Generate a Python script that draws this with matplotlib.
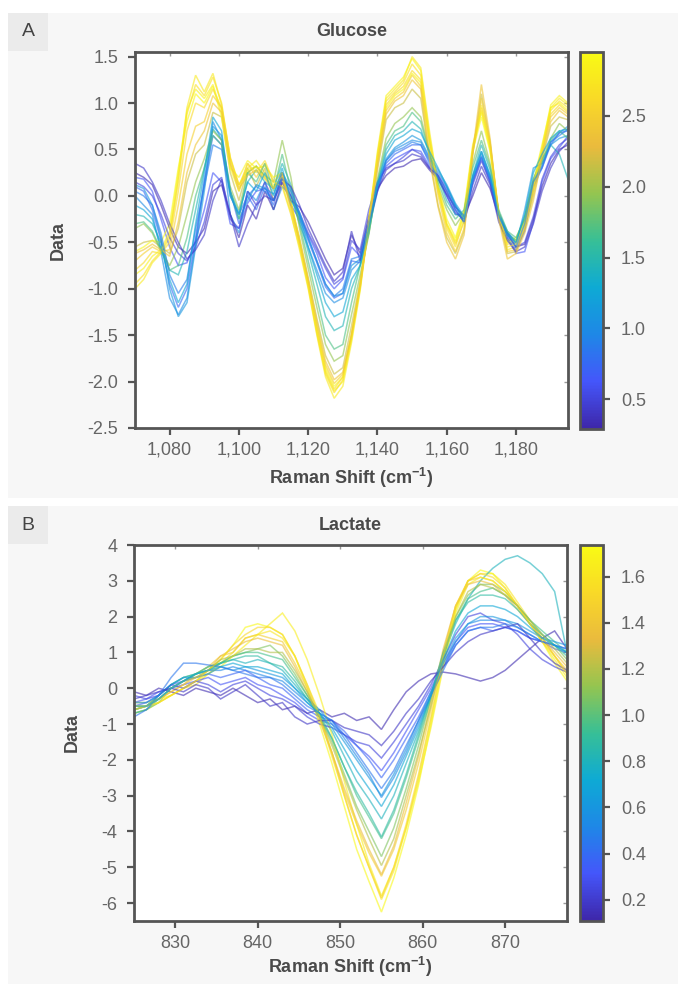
import numpy as np
import matplotlib
matplotlib.use("Agg")
import matplotlib.pyplot as plt
from matplotlib.colors import LinearSegmentedColormap, Normalize
from matplotlib.patches import Rectangle
from matplotlib.cm import ScalarMappable
from matplotlib.ticker import FuncFormatter

plt.rcParams['font.family'] = ['Liberation Sans', 'DejaVu Sans']
plt.rcParams['mathtext.fontset'] = 'custom'
plt.rcParams['mathtext.rm'] = 'Liberation Sans'
plt.rcParams['mathtext.bf'] = 'Liberation Sans:bold'

# ---------------- colormap (parula-like) ----------------
parula_colors = [
    (0.2422, 0.1504, 0.6603), (0.2691, 0.3380, 0.9830), (0.1185, 0.5313, 0.9041),
    (0.0549, 0.6672, 0.8320), (0.2168, 0.7497, 0.5874), (0.5815, 0.7725, 0.3130),
    (0.9169, 0.7315, 0.2396), (0.9763, 0.8506, 0.1542), (0.9769, 0.9839, 0.0805),
]
cmap = LinearSegmentedColormap.from_list("parula", parula_colors)

# ---------------- Panel A : Glucose ----------------
glucose_shift = np.arange(1070, 1195.1, 2.5)   # cm-1
glucose_range = (0.29, 2.95)
glucose_conc = [0.32, 0.42, 0.50, 0.62, 0.75, 0.90, 1.00, 1.10, 1.25, 1.45,
                1.70, 1.95, 2.15, 2.40, 2.52, 2.62, 2.70, 2.78, 2.86, 2.92]
# spectra values x100
glucose_spectra = [
    [25,20,12,-10,-35,-55,-62,-50,-35,5,12,-20,-45,-10,-25,5,-15,15,-5,-12,-28,-48,-68,-85,-78,-42,-62,-22,8,22,30,32,38,40,28,18,2,-12,-22,0,25,8,-22,-42,-55,-52,-25,10,35,50,55],
    [35,30,15,-5,-30,-50,-68,-58,-42,-5,18,-20,-55,-30,-10,0,-5,18,10,-10,-35,-55,-75,-92,-82,-38,-70,-30,5,28,35,38,45,42,30,22,5,-15,-28,5,32,12,-28,-48,-60,-55,-30,5,30,48,58],
    [15,10,0,-20,-45,-62,-70,-55,-28,12,20,-25,-35,5,-10,15,-5,25,0,-18,-40,-58,-78,-95,-88,-48,-58,-15,15,30,35,42,50,45,30,20,0,-18,-25,12,38,15,-20,-40,-55,-50,-22,18,42,55,62],
    [20,18,5,-25,-55,-75,-72,-48,-15,25,15,-30,-35,-8,5,8,-5,15,0,-22,-42,-62,-88,-100,-90,-55,-65,-25,10,32,40,45,50,48,32,18,0,-20,-20,18,42,18,-22,-45,-62,-60,-28,15,40,52,65],
    [10,5,-15,-48,-95,-120,-100,-45,15,65,55,5,-30,0,-15,10,-10,25,-10,-25,-48,-72,-98,-110,-105,-70,-72,-30,8,35,45,50,55,55,38,22,8,-12,-22,15,40,15,-25,-45,-58,-38,10,30,55,68,70],
    [5,0,-10,-40,-85,-105,-90,-35,10,55,50,0,-20,0,10,5,-5,20,5,-20,-45,-70,-95,-108,-100,-68,-65,-28,12,38,48,52,58,55,35,20,5,-15,-28,18,42,18,-22,-42,-55,-30,15,32,58,65,72],
    [0,-10,-20,-60,-110,-128,-110,-50,15,80,60,-20,-40,5,-5,15,-15,10,0,-30,-55,-80,-105,-115,-110,-80,-70,-35,5,38,50,55,60,58,40,25,10,-10,-30,15,45,20,-20,-40,-50,-25,15,30,58,68,75],
    [12,8,-10,-45,-100,-130,-115,-55,5,75,65,5,-25,-5,12,8,2,25,8,-18,-45,-70,-95,-108,-105,-75,-68,-30,10,40,52,58,65,60,42,28,12,-8,-22,22,48,22,-18,-38,-52,-15,30,35,55,62,65],
    [-10,-15,-25,-55,-90,-115,-95,-30,25,85,70,0,-20,15,5,25,0,30,-5,-20,-55,-85,-115,-130,-125,-90,-75,-35,12,45,60,65,72,68,48,30,10,-10,-25,20,48,22,-20,-42,-50,-20,25,45,62,70,72],
    [-20,-22,-30,-50,-80,-85,-60,-15,30,72,60,5,-18,15,28,15,8,35,12,-25,-60,-95,-130,-145,-140,-100,-75,-40,12,50,65,70,80,72,45,20,-5,-20,-22,22,55,28,-18,-40,-48,-22,18,40,55,45,18],
    [-30,-28,-38,-58,-80,-75,-45,0,30,65,55,5,-25,25,15,35,5,45,5,-30,-70,-110,-150,-165,-160,-115,-75,-40,15,55,70,75,90,80,45,15,-10,-25,-15,30,60,32,-15,-38,-45,-25,15,35,60,70,62],
    [-35,-30,-40,-60,-75,-55,-20,15,40,70,60,10,-15,25,32,22,15,60,20,-35,-78,-120,-160,-178,-172,-128,-85,-42,18,62,78,85,95,85,48,10,-15,-32,-18,35,70,35,-18,-42,-48,-25,18,38,62,78,70],
    [-55,-50,-48,-55,-62,-35,15,45,55,90,85,25,-5,30,10,30,-5,20,-10,-45,-88,-132,-172,-192,-185,-140,-92,-38,28,82,95,100,115,105,42,-10,-45,-62,-38,45,110,58,-22,-62,-60,-35,0,40,75,85,82],
    [-62,-58,-52,-58,-65,-28,25,55,70,100,90,35,8,22,28,18,8,22,-8,-48,-90,-135,-178,-198,-190,-150,-95,-32,32,88,102,108,125,115,40,-12,-50,-68,-42,48,120,62,-25,-68,-62,-40,-5,42,80,92,85],
    [-70,-62,-55,-60,-58,-10,45,75,80,108,95,35,5,35,20,35,15,25,-15,-50,-92,-140,-182,-202,-192,-148,-98,-30,35,92,105,112,130,118,50,0,-40,-60,-35,45,105,55,-20,-60,-58,-35,5,45,85,95,88],
    [-80,-72,-60,-62,-50,5,70,100,95,115,95,42,12,25,32,20,8,18,-12,-52,-95,-145,-188,-208,-195,-152,-98,-28,40,98,110,118,135,125,60,8,-32,-52,-28,48,95,55,-18,-52,-50,-30,8,48,88,98,90],
    [-95,-85,-70,-60,-42,15,88,120,108,128,100,40,10,35,25,38,15,10,-20,-55,-98,-148,-192,-212,-198,-152,-95,-25,45,102,112,122,142,130,62,5,-35,-55,-25,52,98,58,-18,-55,-52,-32,10,50,92,102,95],
    [-100,-90,-72,-62,-45,20,95,130,112,132,98,40,12,30,38,25,12,12,-18,-58,-100,-150,-195,-218,-205,-158,-102,-30,42,105,115,125,150,138,70,10,-30,-50,-20,50,92,52,-22,-58,-55,-35,5,45,95,105,98],
    [-85,-78,-65,-58,-38,25,92,115,105,120,90,30,20,38,30,32,20,25,-5,-52,-96,-146,-190,-210,-200,-155,-100,-28,48,108,118,128,148,135,65,12,-25,-45,-15,55,90,50,-20,-50,-48,-28,12,52,98,108,100],
    [-60,-55,-48,-50,-30,30,80,110,100,118,85,30,5,28,32,20,10,20,-5,-48,-92,-140,-185,-205,-195,-150,-95,-25,38,95,108,115,132,122,58,5,-30,-48,-18,48,85,48,-18,-48,-45,-25,15,55,95,100,92],
]
glucose_yticks = [1.5, 1.0, 0.5, 0.0, -0.5, -1.0, -1.5, -2.0, -2.5]
glucose_xticks = [1080, 1100, 1120, 1140, 1160, 1180]
glucose_cticks = [0.5, 1.0, 1.5, 2.0, 2.5]

# ---------------- Panel B : Lactate ----------------
lactate_shift = np.arange(825, 877.6, 1.5)   # cm-1
lactate_range = (0.108, 1.737)
lactate_conc = [0.13, 0.18, 0.24, 0.30, 0.37, 0.45, 0.52, 0.60, 0.70, 0.80,
                0.88, 0.95, 1.08, 1.20, 1.35, 1.45, 1.52, 1.60, 1.66, 1.72]
lactate_spectra = [
    [-0.1,-0.2,0.0,-0.1,-0.2,0.0,-0.1,-0.2,0.0,-0.2,-0.4,-0.3,-0.6,-0.5,-0.7,-0.6,-0.8,-0.7,-0.9,-0.8,-1.15,-0.6,-0.1,0.2,0.4,0.45,0.4,0.3,0.2,0.3,0.5,0.8,1.1,1.4,1.6,1.1],
    [-0.3,-0.2,-0.1,0.0,-0.1,0.1,0.0,-0.3,-0.1,0.1,-0.2,-0.5,-0.4,-0.8,-1.0,-0.9,-0.9,-1.1,-1.2,-1.3,-1.6,-1.2,-0.7,-0.3,0.2,0.6,1.0,1.3,1.5,1.6,1.7,1.8,1.4,1.0,0.7,0.5],
    [-0.2,-0.3,-0.2,0.1,0.0,0.2,0.1,-0.1,0.1,0.2,0.0,-0.2,-0.3,-0.5,-0.8,-1.0,-1.1,-1.3,-1.5,-1.6,-1.95,-1.5,-1.0,-0.5,0.1,0.8,1.5,2.0,2.1,1.9,1.8,1.5,1.1,0.8,0.6,0.45],
    [-0.4,-0.3,-0.1,0.0,0.1,0.2,0.3,0.1,0.2,0.3,0.1,0.0,-0.2,-0.4,-0.7,-0.9,-1.0,-1.3,-1.6,-1.9,-2.3,-1.8,-1.2,-0.6,0.0,0.7,1.3,1.7,1.8,1.8,1.7,1.6,1.4,1.3,1.1,1.0],
    [-0.5,-0.4,-0.2,0.1,0.2,0.3,0.4,0.3,0.4,0.5,0.3,0.1,0.0,-0.3,-0.6,-0.8,-0.9,-1.2,-1.6,-2.0,-2.5,-2.0,-1.4,-0.8,-0.1,0.6,1.2,1.6,1.7,1.6,1.7,1.6,1.4,1.3,1.2,1.1],
    [-0.8,-0.6,-0.2,0.3,0.7,0.7,0.65,0.6,0.5,0.4,0.3,0.3,0.1,-0.2,-0.5,-0.7,-0.9,-1.3,-1.8,-2.3,-2.8,-2.3,-1.6,-0.9,-0.2,0.5,1.2,1.6,1.7,1.7,1.8,1.7,1.5,1.3,1.2,1.1],
    [-0.6,-0.5,-0.3,0.0,0.2,0.4,0.5,0.5,0.6,0.5,0.4,0.3,0.2,-0.1,-0.4,-0.7,-0.9,-1.4,-1.9,-2.4,-3.05,-2.5,-1.8,-1.0,-0.2,0.6,1.3,1.8,1.9,1.9,1.9,1.7,1.5,1.3,1.2,1.0],
    [-0.4,-0.4,-0.2,0.1,0.3,0.3,0.4,0.6,0.5,0.6,0.5,0.4,0.3,0.0,-0.3,-0.6,-1.0,-1.5,-2.0,-2.5,-3.0,-2.4,-1.7,-0.9,-0.1,0.7,1.4,1.8,2.0,2.0,1.9,1.8,1.6,1.4,1.3,1.2],
    [-0.5,-0.5,-0.3,0.0,0.2,0.4,0.5,0.6,0.7,0.6,0.6,0.5,0.4,0.0,-0.4,-0.7,-1.1,-1.7,-2.3,-2.8,-3.3,-2.7,-1.9,-1.1,-0.2,0.8,1.6,2.1,2.3,2.3,2.2,2.0,1.7,1.4,1.2,1.0],
    [-0.6,-0.5,-0.2,0.1,0.3,0.4,0.5,0.7,0.8,0.7,0.8,0.7,0.5,0.1,-0.3,-0.7,-1.2,-1.9,-2.6,-3.1,-3.65,-3.0,-2.1,-1.2,-0.2,0.9,1.8,2.5,3.0,3.35,3.6,3.7,3.5,3.2,2.7,1.0],
    [-0.7,-0.6,-0.3,0.0,0.2,0.4,0.6,0.7,0.8,0.9,0.9,0.7,0.6,0.2,-0.3,-0.8,-1.4,-2.2,-2.9,-3.5,-4.15,-3.4,-2.4,-1.3,-0.2,1.0,1.9,2.4,2.6,2.6,2.5,2.2,1.8,1.5,1.2,0.9],
    [-0.5,-0.5,-0.2,0.1,0.3,0.4,0.5,0.7,0.9,1.0,1.0,0.9,0.8,0.3,-0.2,-0.7,-1.4,-2.2,-3.0,-3.6,-4.2,-3.5,-2.5,-1.4,-0.3,0.9,1.9,2.5,2.7,2.8,2.6,2.3,1.9,1.6,1.3,1.0],
    [-0.7,-0.6,-0.4,0.0,0.2,0.4,0.6,0.7,0.9,1.0,1.1,1.2,0.9,0.4,-0.2,-0.8,-1.5,-2.4,-3.3,-4.0,-4.7,-3.9,-2.8,-1.6,-0.3,1.0,2.0,2.6,2.9,2.9,2.7,2.3,1.9,1.5,1.2,0.8],
    [-0.6,-0.5,-0.3,0.0,0.2,0.3,0.5,0.8,0.9,1.1,1.1,1.0,1.0,0.5,-0.1,-0.8,-1.6,-2.5,-3.4,-4.2,-4.95,-4.2,-3.0,-1.8,-0.5,0.9,2.0,2.7,2.9,2.8,2.6,2.3,1.9,1.5,1.1,0.7],
    [-0.5,-0.5,-0.3,-0.1,0.1,0.3,0.5,0.9,1.1,1.3,1.4,1.3,1.2,0.6,-0.1,-0.9,-1.8,-2.8,-3.7,-4.5,-5.2,-4.4,-3.2,-1.9,-0.4,1.1,2.3,2.9,3.0,2.9,2.6,2.2,1.8,1.4,1.0,0.6],
    [-0.4,-0.4,-0.3,-0.1,0.1,0.4,0.6,0.9,1.0,1.4,1.5,1.4,1.3,0.7,0.0,-0.8,-1.8,-2.9,-3.8,-4.6,-5.25,-4.5,-3.4,-2.1,-0.6,1.0,2.3,3.0,3.1,3.0,2.7,2.3,1.8,1.4,0.9,0.5],
    [-0.6,-0.5,-0.4,-0.2,0.0,0.2,0.5,0.8,1.2,1.5,1.7,1.7,1.5,0.9,0.1,-0.8,-1.9,-3.0,-4.1,-5.0,-5.85,-5.0,-3.8,-2.4,-0.8,0.9,2.3,3.0,3.2,3.1,2.8,2.3,1.8,1.3,0.9,0.4],
    [-0.7,-0.6,-0.4,-0.2,0.0,0.1,0.4,0.7,1.0,1.4,1.5,1.6,1.4,0.9,0.1,-0.7,-1.8,-3.0,-4.1,-5.0,-5.9,-5.1,-3.9,-2.5,-0.9,0.8,2.2,3.0,3.2,3.2,2.9,2.4,1.9,1.4,0.9,0.4],
    [-0.5,-0.5,-0.3,-0.2,0.0,0.2,0.4,0.6,0.9,1.2,1.5,1.8,2.1,1.6,0.8,-0.2,-1.3,-2.6,-3.8,-4.9,-5.8,-5.0,-3.9,-2.6,-1.1,0.6,2.1,2.9,3.1,3.0,2.7,2.3,1.8,1.3,0.8,0.3],
    [-0.6,-0.5,-0.4,-0.2,0.0,0.2,0.5,0.8,1.2,1.7,1.8,1.7,1.5,0.9,0.0,-1.0,-2.1,-3.3,-4.5,-5.4,-6.25,-5.3,-4.1,-2.7,-1.0,0.7,2.2,3.0,3.3,3.2,2.8,2.3,1.8,1.3,0.7,0.2],
]
lactate_yticks = [4, 3, 2, 1, 0, -1, -2, -3, -4, -5, -6]
lactate_xticks = [830, 840, 850, 860, 870]
lactate_cticks = [0.2, 0.4, 0.6, 0.8, 1.0, 1.2, 1.4, 1.6]

# draw order (interleaved)
draw_order = [17, 3, 12, 6, 19, 0, 9, 15, 4, 11, 18, 2, 7, 14, 10, 1, 16, 5, 13, 8]

# ---------------- figure ----------------
W, H = 678, 984
fig = plt.figure(figsize=(W / 100, H / 100), dpi=100)
fig.patch.set_facecolor('white')

def fx(px):
    return px / W

def fy(py):
    return 1 - py / H

SPINE = '#555555'
TICKLAB = '#666666'
LABEL = '#4a4a4a'

def card(top, bottom, letter):
    fig.patches.append(Rectangle((fx(8), fy(bottom)), fx(W - 8), (bottom - top) / H,
                                 transform=fig.transFigure, facecolor='#f7f7f7',
                                 edgecolor='none', zorder=-10))
    fig.patches.append(Rectangle((fx(8), fy(top + 38)), fx(40), 38 / H,
                                 transform=fig.transFigure, facecolor='#ebebeb',
                                 edgecolor='none', zorder=-9))
    fig.text(fx(28), fy(top + 19), letter, ha='center', va='center',
             fontsize=14, color='#444444')

def panel(ax_box, cb_box, x, conc, spectra, scale, crange, xlim, ylim,
          xticks, yticks, cticks, xfmt, yfmt, title, title_y, xlabelpad):
    l, t, r, b = ax_box
    ax = fig.add_axes([fx(l), fy(b), fx(r - l), (b - t) / H])
    ax.set_facecolor('white')
    norm = Normalize(vmin=crange[0], vmax=crange[1])
    for k in draw_order:
        ax.plot(x, np.asarray(spectra[k]) / scale, color=cmap(norm(conc[k])),
                lw=1.1, alpha=0.6, solid_joinstyle='miter')
    ax.set_xlim(*xlim)
    ax.set_ylim(*ylim)
    ax.set_xticks(xticks)
    ax.set_yticks(yticks)
    ax.xaxis.set_major_formatter(FuncFormatter(xfmt))
    ax.yaxis.set_major_formatter(FuncFormatter(yfmt))
    for s in ax.spines.values():
        s.set_color(SPINE)
        s.set_linewidth(2.0)
    ax.tick_params(direction='out', length=5, width=1.6, color=SPINE,
                   labelsize=13, labelcolor=TICKLAB, pad=7)
    ax.tick_params(axis='x', pad=5)
    # inner ticks on the top / right edges
    secx = ax.secondary_xaxis('top')
    secx.set_xticks(xticks)
    secx.tick_params(direction='in', length=3, width=1, color='#999999', labeltop=False)
    secx.spines['top'].set_visible(False)
    secy = ax.secondary_yaxis('right')
    secy.set_yticks(yticks)
    secy.tick_params(direction='in', length=3, width=1, color='#999999', labelright=False)
    secy.spines['right'].set_visible(False)

    ax.set_xlabel(r'Raman Shift (cm$^{\mathbf{-1}}$)', fontsize=13, fontweight='bold',
                  color=LABEL, labelpad=xlabelpad)
    ax.set_ylabel('Data', fontsize=13, fontweight='bold', color=LABEL, labelpad=15)
    fig.text(fx((l + r) / 2), fy(title_y), title, ha='center', va='center',
             fontsize=13, fontweight='bold', color=LABEL)

    cl, ct, cr, cbm = cb_box
    cax = fig.add_axes([fx(cl), fy(cbm), fx(cr - cl), (cbm - ct) / H])
    cb = fig.colorbar(ScalarMappable(norm=norm, cmap=cmap), cax=cax)
    cb.outline.set_edgecolor(SPINE)
    cb.outline.set_linewidth(2.0)
    cb.set_ticks(cticks)
    cb.ax.yaxis.set_major_formatter(FuncFormatter(lambda v, p: f'{v:.1f}'))
    cb.ax.tick_params(direction='out', length=5, width=1.6, color=SPINE,
                      labelsize=13, labelcolor=TICKLAB, pad=8)
    return ax

card(13, 498, 'A')
card(506, 984, 'B')

panel((135, 52, 568, 428), (580, 52, 603, 429), glucose_shift, glucose_conc,
      glucose_spectra, 100.0, glucose_range, (1070, 1195), (-2.5, 1.55),
      glucose_xticks, glucose_yticks, glucose_cticks,
      lambda v, p: f'{int(round(v)):,}', lambda v, p: f'{v:.1f}', 'Glucose', 32, 5)

panel((134, 545, 567, 921), (580, 545, 603, 921), lactate_shift, lactate_conc,
      lactate_spectra, 1.0, lactate_range, (825, 877.5), (-6.5, 4.0),
      lactate_xticks, lactate_yticks, lactate_cticks,
      lambda v, p: f'{int(round(v))}', lambda v, p: f'{int(round(v))}', 'Lactate', 525, 2)

fig.savefig('out.png', dpi=100, facecolor='white')
